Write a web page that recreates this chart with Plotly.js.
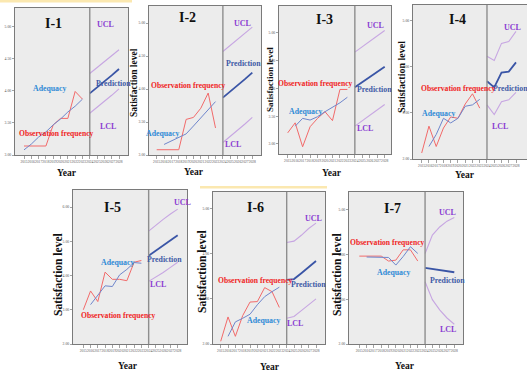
<!DOCTYPE html>
<html><head><meta charset="utf-8">
<script src="https://cdn.plot.ly/plotly-3.0.1.min.js"></script>
<style>html,body{margin:0;padding:0;background:#fff}#chart{width:527px;height:374px}</style>
</head><body><div id="chart"></div>
<script>
// ---------- data ----------
const years = [2015,2016,2017,2018,2019,2020,2021,2022,2023,2024,2025,2026,2027,2028];
const obsYears = [2015,2016,2017,2018,2019,2020,2021,2022,2023];
const adqYears = [2016,2017,2018,2019,2020,2021,2022,2023];
const adqYearsI1 = [2015,2016,2017,2018,2019,2020,2021,2022,2023];
const predYears = [2024,2025,2026,2027,2028];

const I1_obs  = [3.14,3.14,3.14,3.14,3.47,3.57,3.57,3.99,3.87];
const I1_adq  = [3.08,3.17,3.28,3.36,3.47,3.56,3.67,3.76,3.87];
const I1_pred = [3.96,4.05,4.15,4.24,4.34];
const I1_ucl  = [4.27,4.36,4.46,4.55,4.64];
const I1_lcl  = [3.65,3.74,3.84,3.93,4.03];

const I2_obs  = [3.08,3.08,3.08,3.08,3.54,3.57,3.71,3.94,3.41];
const I2_adq  = [3.16,3.21,3.26,3.32,3.44,3.56,3.68,3.81];
const I2_pred = [3.87,3.96,4.06,4.15,4.25];
const I2_ucl  = [4.57,4.66,4.76,4.85,4.94];
const I2_lcl  = [3.19,3.28,3.38,3.47,3.57];

const I3_obs  = [3.20,3.38,2.95,3.31,3.46,3.58,3.42,3.98,3.98];
const I3_adq  = [3.32,3.46,3.43,3.49,3.58,3.66,3.74,3.84];
const I3_pred = [4.02,4.11,4.20,4.30,4.39];
const I3_ucl  = [4.65,4.75,4.85,4.94,5.04];
const I3_lcl  = [3.32,3.42,3.52,3.61,3.71];

const I4_obs  = [2.13,2.71,2.27,2.67,2.91,2.88,3.19,3.41,3.10];
const I4_adq  = [2.27,2.53,2.88,2.78,2.88,3.14,3.17,3.29];
const I4_pred = [3.68,3.55,3.87,3.89,4.09];
const I4_ucl  = [4.22,4.13,4.50,4.54,4.76];
const I4_lcl  = [3.17,2.96,3.24,3.28,3.44];

const I5_obs  = [3.00,3.55,3.24,4.10,3.89,3.89,3.85,4.39,4.44];
const I5_adq  = [3.15,3.44,3.70,3.68,4.02,4.18,4.38,4.36];
const I5_pred = [4.58,4.73,4.88,5.03,5.18];
const I5_ucl  = [5.30,5.48,5.64,5.80,5.94];
const I5_lcl  = [3.83,3.95,4.09,4.24,4.39];

const I6_obs  = [2.06,2.60,2.17,2.63,2.93,2.94,3.25,3.16,2.81];
const I6_adq  = [2.17,2.49,2.57,2.66,2.87,3.05,3.16,3.26];
const I6_pred = [3.42,3.44,3.57,3.71,3.84];
const I6_ucl  = [4.25,4.28,4.41,4.56,4.68];
const I6_lcl  = [2.57,2.61,2.74,2.87,3.00];

const I7_obs  = [3.96,3.96,3.96,3.96,3.85,3.87,4.10,4.10,3.85];
const I7_adq  = [3.94,3.94,3.94,3.93,3.76,3.95,4.17,4.02];
const I7_pred = [3.70,3.675,3.65,3.625,3.60];
const I7_ucl  = [4.02,4.43,4.61,4.74,4.82];
const I7_lcl  = [3.39,2.99,2.76,2.58,2.44];

const panelNames = ['I-1','I-2','I-3','I-4','I-5','I-6','I-7'];
const labelObs = 'Observation frequency', labelAdq = 'Adequacy', labelPred = 'Prediction', labelUCL = 'UCL', labelLCL = 'LCL';
const xTitle = 'Year', yTitle = 'Satisfaction level';

// ---------- layout config (pixel geometry) ----------
const W = 527, H = 374;
const panels = [
 {obs:I1_obs, adq:I1_adq, adqX:adqYearsI1, pred:I1_pred, ucl:I1_ucl, lcl:I1_lcl,
  box:[15,8,128,155], p15:24, p28:119, yr:[3.0,5.29], dt:0.5,
  L:{name:[53,23],ucl:[105,24],adq:[49,88],pred:[113,83],lcl:[108,126],obs:[56,133],year:[67,173],ytitle:[134,83],ys:9.5}},
 {obs:I2_obs, adq:I2_adq, adqX:adqYears, pred:I2_pred, ucl:I2_ucl, lcl:I2_lcl,
  box:[149,6,261,155], p15:156.7, p28:252.3, yr:[3.0,5.26], dt:0.5,
  L:{name:[187,18],ucl:[242,23],adq:[162,133],pred:[243,63],lcl:[233,144],obs:[188,85],year:[194,172],ytitle:null,ys:9.5}},
 {obs:I3_obs, adq:I3_adq, adqX:adqYears, pred:I3_pred, ucl:I3_ucl, lcl:I3_lcl,
  box:[279,6,391,154], p15:287.7, p28:384.7, yr:[2.82,5.48], dt:0.5,
  L:{name:[324,20],ucl:[375,25],adq:[305,112],pred:[374,90],lcl:[365,128],obs:[315,83],year:[332,173],ytitle:[270,80],ys:9}},
 {obs:I4_obs, adq:I4_adq, adqX:adqYears, pred:I4_pred, ucl:I4_ucl, lcl:I4_lcl,
  box:[413,5,527,159], p15:421.7, p28:516, yr:[2.0,5.33], dt:1,
  L:{name:[457,20],ucl:[512,28],adq:[438,113],pred:[510,88],lcl:[500,126],obs:[458,88],year:[465,175],ytitle:[402,77],ys:10}},
 {obs:I5_obs, adq:I5_adq, adqX:adqYears, pred:I5_pred, ucl:I5_ucl, lcl:I5_lcl,
  box:[73,190,187,344], p15:83.3, p28:177.7, yr:[2.0,6.5], dt:1,
  L:{name:[112,207],ucl:[182,203],adq:[117,262],pred:[164,259],lcl:[158,284],obs:[118,315],year:[128,366],ytitle:[58,275],ys:11.5}},
 {obs:I6_obs, adq:I6_adq, adqX:adqYears, pred:I6_pred, ucl:I6_ucl, lcl:I6_lcl,
  box:[213,192,325,344], p15:220.7, p28:316, yr:[2.0,5.37], dt:1,
  L:{name:[255,207],ucl:[313,218],adq:[263,320],pred:[308,284],lcl:[295,323],obs:[255,280],year:[270,367],ytitle:[202,272],ys:11.5}},
 {obs:I7_obs, adq:I7_adq, adqX:adqYears, pred:I7_pred, ucl:I7_ucl, lcl:I7_lcl,
  box:[349,192,463,344], p15:359.3, p28:454.3, yr:[2.0,5.39], dt:1,
  L:{name:[392,208],ucl:[447,212],adq:[393,272],pred:[447,280],lcl:[448,329],obs:[387,242],year:[405,366],ytitle:[337,275],ys:11.5}}
];

const C = {obs:'#f26a6a', adq:'#6f86cc', pred:'#3a55a6', cl:'#c7a6e2',
           tObs:'#f01e1e', tAdq:'#2f8ad6', tPred:'#3d5aa6', tCl:'#8a3cd2'};
const serif = 'Liberation Serif, Times New Roman, serif';

const data = [], annotations = [], shapes = [];
const layout = {width:W, height:H, margin:{l:0,r:0,t:0,b:0}, showlegend:false,
  paper_bgcolor:'#ffffff', plot_bgcolor:'#ececec', annotations, shapes};

const px = v => v / W, py = v => 1 - v / H;
function ann(text, pos, color, size, extra) {
  annotations.push(Object.assign({text, x:px(pos[0]), y:py(pos[1]), xref:'paper', yref:'paper',
    showarrow:false, xanchor:'center', yanchor:'middle',
    font:{family:serif, size, color, weight:'bold'}}, extra || {}));
}

panels.forEach((p, i) => {
  const n = i + 1, xs = n === 1 ? 'x' : 'x' + n, ys = n === 1 ? 'y' : 'y' + n;
  const [l, t, r, b] = p.box;
  const ppy = (p.p28 - p.p15) / 13;
  const xr = [2015 + (l - p.p15) / ppy, 2015 + (r - p.p15) / ppy];
  const ticks = [];
  for (let v = Math.ceil(p.yr[0] / p.dt - 1e-9) * p.dt; v <= p.yr[1] + 1e-9; v += p.dt) ticks.push(+v.toFixed(2));
  layout['xaxis' + (n === 1 ? '' : n)] = {domain:[px(l), px(r)], anchor:ys, range:xr,
    tickmode:'array', tickvals:years, ticktext:years.map(String), tickangle:0,
    ticks:'outside', ticklen:3, tickcolor:'#666', tickwidth:0.6,
    tickfont:{size:3.6, color:'#555', family:serif},
    showline:true, linecolor:'#7a7a7a', linewidth:1, mirror:true, showgrid:false, zeroline:false, fixedrange:true};
  layout['yaxis' + (n === 1 ? '' : n)] = {domain:[py(b), py(t)], anchor:xs, range:p.yr,
    tickmode:'array', tickvals:ticks, ticktext:ticks.map(v => v.toFixed(2)),
    ticks:'outside', ticklen:2, tickcolor:'#666', tickwidth:0.6,
    tickfont:{size:3.8, color:'#555', family:serif},
    showline:true, linecolor:'#7a7a7a', linewidth:1, mirror:true, showgrid:false, zeroline:false, fixedrange:true};

  const base = {type:'scatter', mode:'lines', xaxis:xs, yaxis:ys, hoverinfo:'skip'};
  data.push(Object.assign({}, base, {x:predYears, y:p.ucl, line:{color:C.cl, width:1.1}}));
  data.push(Object.assign({}, base, {x:predYears, y:p.lcl, line:{color:C.cl, width:1.1}}));
  data.push(Object.assign({}, base, {x:obsYears, y:p.obs, line:{color:C.obs, width:1}}));
  data.push(Object.assign({}, base, {x:p.adqX, y:p.adq, line:{color:C.adq, width:1}}));
  data.push(Object.assign({}, base, {x:predYears, y:p.pred, line:{color:C.pred, width:1.8}}));

  shapes.push({type:'line', xref:xs, yref:ys + ' domain', x0:2024, x1:2024, y0:0, y1:1,
    line:{color:'#8e8e8e', width:1.4}});

  const L = p.L;
  ann(panelNames[i], L.name, '#111', 14);
  ann(labelUCL, L.ucl, C.tCl, 8);
  ann(labelLCL, L.lcl, C.tCl, 8);
  ann(labelAdq, L.adq, C.tAdq, 7.8);
  ann(labelPred, L.pred, C.tPred, 7.8);
  ann(labelObs, L.obs, C.tObs, 7.6);
  ann(xTitle, L.year, '#111', 9.5);
  if (L.ytitle) ann(yTitle, L.ytitle, '#111', L.ys, {textangle:-90});
});

shapes.push({type:'rect', xref:'paper', yref:'paper', x0:0, x1:px(132), y0:py(2.5), y1:1,
  fillcolor:'#fbe8b0', line:{width:0}, layer:'below'});
shapes.push({type:'rect', xref:'paper', yref:'paper', x0:px(200), x1:px(327), y0:py(188.5), y1:py(186),
  fillcolor:'#fbe8b0', line:{width:0}, layer:'below'});

Plotly.newPlot('chart', data, layout, {staticPlot:true, displayModeBar:false});
</script></body></html>
